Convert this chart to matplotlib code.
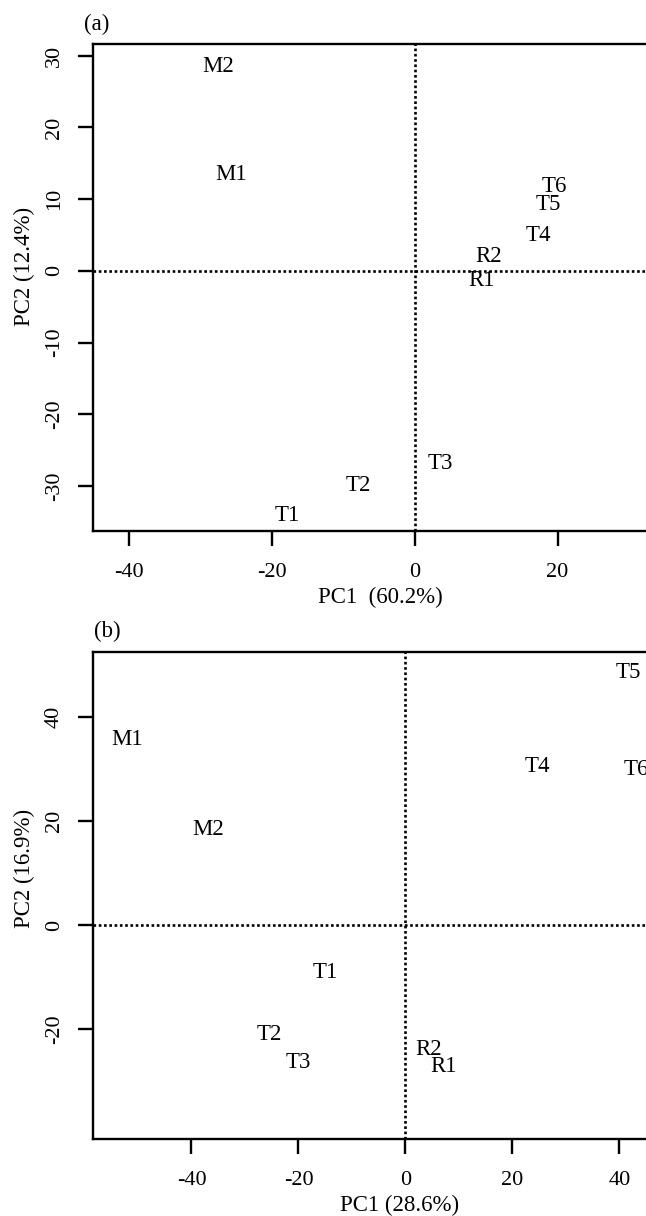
import matplotlib
matplotlib.use("Agg")
import matplotlib.pyplot as plt

plt.rcParams['font.family'] = ['Liberation Serif', 'DejaVu Serif']

# Panel (a) data
labels_a = ["M2", "M1", "T6", "T5", "T4", "R2", "R1", "T3", "T2", "T1"]
pc1_a = [-27.5, -25.7, 19.6, 18.7, 17.3, 10.3, 9.4, 3.6, -7.9, -17.8]
pc2_a = [28.5, 13.5, 11.7, 9.2, 5.0, 2.0, -1.3, -26.9, -30.0, -34.2]
xticks_a = [-40, -20, 0, 20]
yticks_a = [-30, -20, -10, 0, 10, 20, 30]

# Panel (b) data
labels_b = ["M1", "M2", "T5", "T4", "T6", "T1", "T2", "T3", "R2", "R1"]
pc1_b = [-52.1, -36.9, 41.6, 24.6, 43.2, -15.0, -25.4, -20.0, 4.3, 7.1]
pc2_b = [35.6, 18.3, 48.6, 30.4, 30.0, -9.1, -21.0, -26.5, -24.0, -27.2]
xticks_b = [-40, -20, 0, 20, 40]
yticks_b = [-20, 0, 20, 40]

W, H = 646, 1216
fig = plt.figure(figsize=(W / 100, H / 100), dpi=100)

FS_PT = 16.5   # point labels
FS_TK = 16     # tick labels
FS_AX = 16.5   # axis labels / tags


def make_axes(left_px, top_px, right_px, bottom_px):
    return fig.add_axes([left_px / W, 1 - bottom_px / H,
                         (right_px - left_px) / W, (bottom_px - top_px) / H])


def style(ax, labels, xs, ys, xlim, ylim, xticks, yticks, xlabel, ylabel,
          xlab_pos, ylab_pos, tag, tag_pos):
    ax.set_xlim(*xlim)
    ax.set_ylim(*ylim)
    for s in ['left', 'top', 'bottom']:
        ax.spines[s].set_linewidth(1.7)
    ax.spines['right'].set_visible(False)
    ax.axhline(0, color='black', lw=1.9, ls=(0, (1, 1)))
    ax.axvline(0, color='black', lw=1.9, ls=(0, (1, 1)))
    for lab, x, y in zip(labels, xs, ys):
        ax.text(x, y, lab, ha='center', va='center', fontsize=FS_PT)
    ax.set_xticks(xticks)
    ax.set_yticks(yticks)
    ax.set_xticklabels([str(t) for t in xticks])
    ax.set_yticklabels([str(t) for t in yticks], rotation=90, va='center')
    ax.tick_params(axis='both', direction='out', length=11, width=1.7,
                   labelsize=FS_TK)
    ax.tick_params(axis='x', pad=12)
    ax.tick_params(axis='y', pad=10)
    fig.text(xlab_pos[0] / W, 1 - xlab_pos[1] / H, xlabel, ha='center',
             va='center', fontsize=FS_AX)
    fig.text(ylab_pos[0] / W, 1 - ylab_pos[1] / H, ylabel, ha='center',
             va='center', fontsize=FS_AX, rotation=90)
    fig.text(tag_pos[0] / W, 1 - tag_pos[1] / H, tag, ha='center',
             va='center', fontsize=FS_AX)


ax_a = make_axes(93, 44, 700, 531)
style(ax_a, labels_a, pc1_a, pc2_a, (-44.97, -44.97 + 607 / 7.15),
      (-36.3, 31.65), xticks_a, yticks_a, "PC1  (60.2%)", "PC2 (12.4%)",
      (380, 597), (24, 266), "(a)", (97, 24))

ax_b = make_axes(93, 652, 700, 1139)
style(ax_b, labels_b, pc1_b, pc2_b, (-58.4, -58.4 + 607 / 5.35),
      (-41.15, 52.5), xticks_b, yticks_b, "PC1 (28.6%)", "PC2 (16.9%)",
      (400, 1205), (24, 868), "(b)", (107, 631))

fig.savefig("out.png", dpi=100)
